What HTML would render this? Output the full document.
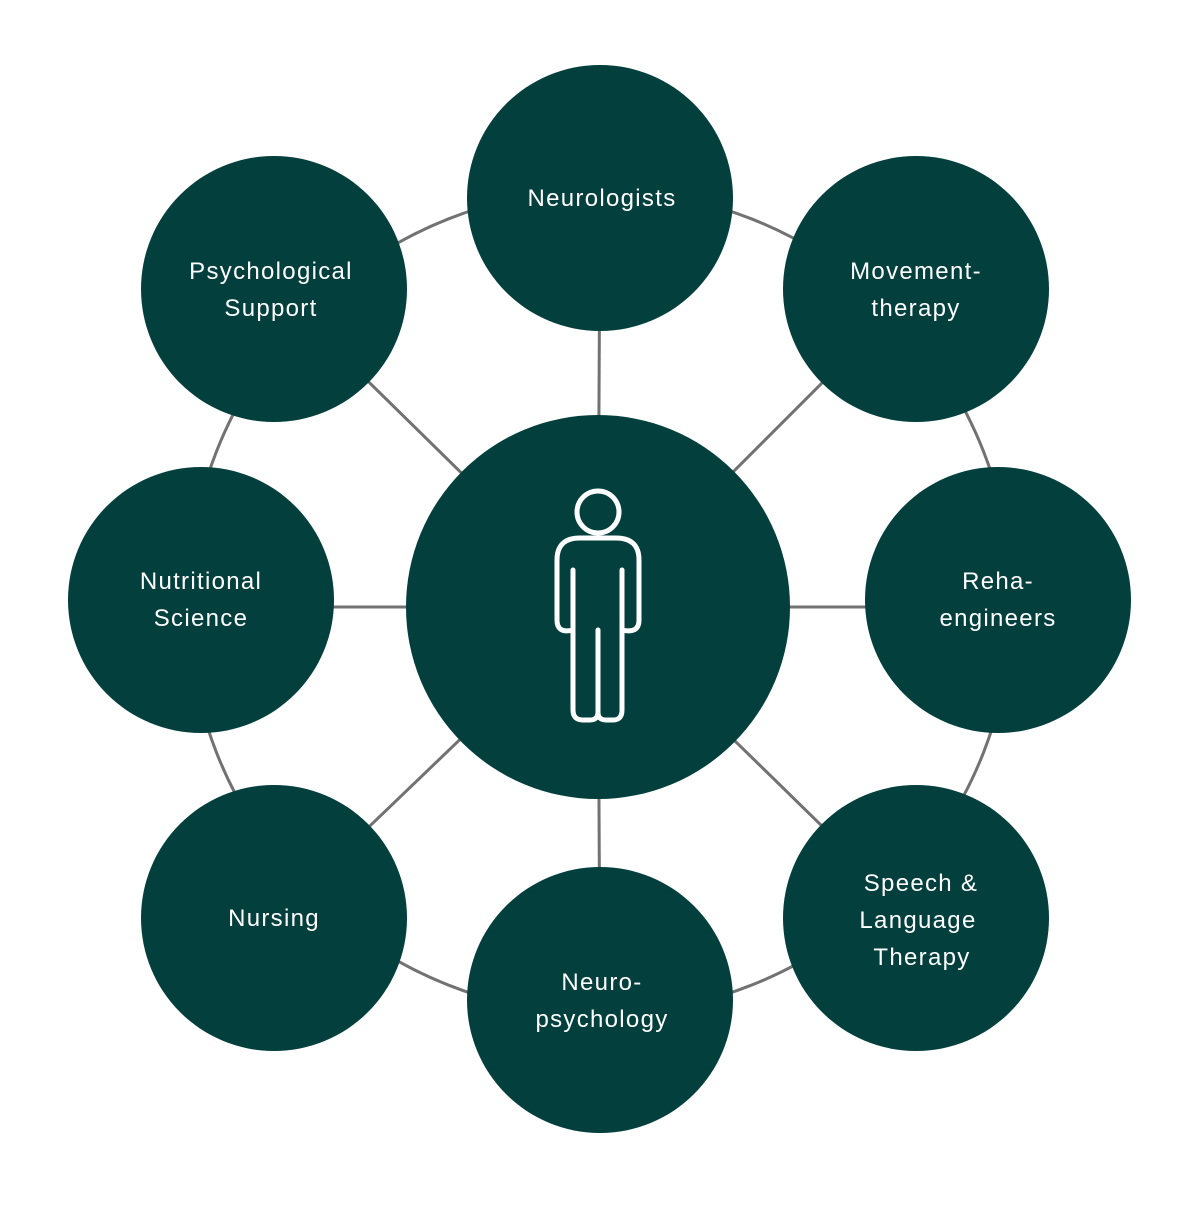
<!DOCTYPE html>
<html><head><meta charset="utf-8"><style>
html,body{margin:0;padding:0;background:#fff}
text{font-family:"Liberation Sans",sans-serif;font-size:24px;fill:#fff;text-anchor:middle;letter-spacing:1.3px}
</style></head><body>
<svg width="1200" height="1200" viewBox="0 0 1200 1200" xmlns="http://www.w3.org/2000/svg">
<g stroke="#727272" stroke-width="3" fill="none">
<circle cx="600" cy="602" r="412"/>
<line x1="598" y1="607" x2="600" y2="198"/>
<line x1="598" y1="607" x2="916" y2="289"/>
<line x1="598" y1="607" x2="998" y2="607"/>
<line x1="598" y1="607" x2="916" y2="918"/>
<line x1="598" y1="607" x2="600" y2="1000"/>
<line x1="598" y1="607" x2="274" y2="918"/>
<line x1="598" y1="607" x2="201" y2="607"/>
<line x1="598" y1="607" x2="274" y2="289"/>
</g>
<g fill="#033f3d">
<circle cx="598" cy="607" r="192"/>
<circle cx="600" cy="198" r="133"/>
<circle cx="916" cy="289" r="133"/>
<circle cx="998" cy="600" r="133"/>
<circle cx="916" cy="918" r="133"/>
<circle cx="600" cy="1000" r="133"/>
<circle cx="274" cy="918" r="133"/>
<circle cx="201" cy="600" r="133"/>
<circle cx="274" cy="289" r="133"/>
</g>
<g stroke="#fff" stroke-width="5" fill="none" stroke-linecap="round" stroke-linejoin="round">
<circle cx="598" cy="512" r="21"/>
<path d="M573 630 Q557 634 557 620 L557 560 Q557 538 580 538 L616 538 Q639 538 639 560 L639 620 Q639 634 622 630"/>
<path d="M573 570 L573 710 Q573 720 583 720 L590 720 Q598 720 598 712 L598 630"/>
<path d="M598 712 Q598 720 606 720 L613 720 Q622 720 622 710 L622 570"/>
</g>
<text x="602" y="206">Neurologists</text>
<text x="916" y="279">Movement-</text>
<text x="916" y="316">therapy</text>
<text x="998" y="589">Reha-</text>
<text x="998" y="626">engineers</text>
<text x="921" y="891">Speech &amp;</text>
<text x="918" y="928">Language</text>
<text x="922" y="965">Therapy</text>
<text x="602" y="990">Neuro-</text>
<text x="602" y="1027">psychology</text>
<text x="274" y="926">Nursing</text>
<text x="201" y="589">Nutritional</text>
<text x="201" y="626">Science</text>
<text x="271" y="279">Psychological</text>
<text x="271" y="316">Support</text>
</svg>
</body></html>
